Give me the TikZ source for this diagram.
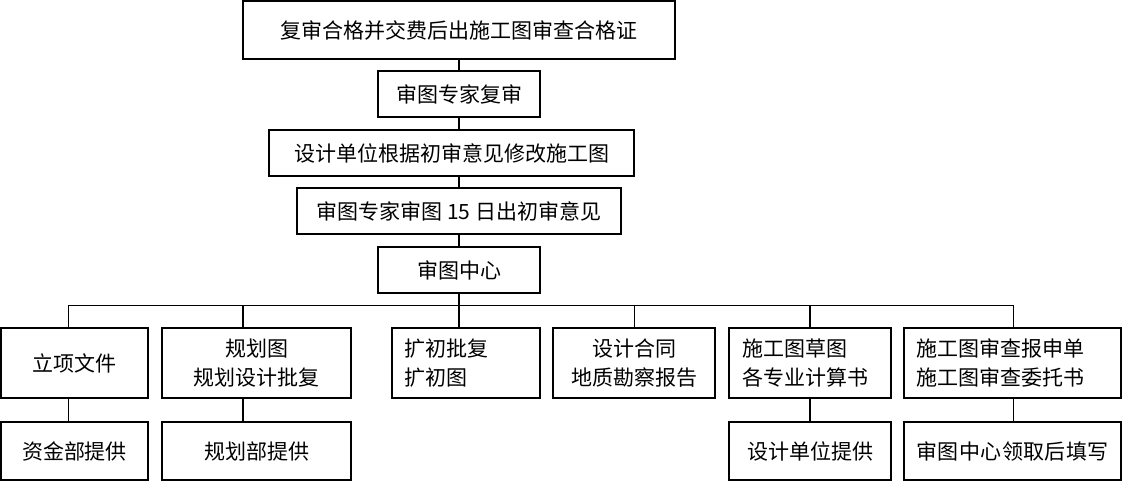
\documentclass[tikz,border=0pt]{standalone}
\usepackage{fontspec}
\setmainfont{Noto Sans CJK SC}
\newcommand\boxfont{\fontsize{21pt}{29pt}\selectfont}
\newcommand\lsp[1]{\addfontfeatures{LetterSpace=#1}}
\begin{document}
\begin{tikzpicture}[x=1pt,y=-1pt,
  box/.style={draw, line width=1.5pt, inner sep=0pt, font=\boxfont, align=center},
  lbox/.style={box, align=left},
  thinline/.style={line width=0.8pt},
  thickline/.style={line width=1.6pt}]
\useasboundingbox (0,0) rectangle (1122,482);
% top chain
\node[box, minimum width=432pt, minimum height=58pt] (b1) at (459,30) {复审合格并交费后出施工图审查合格证};
\node[box, minimum width=162pt, minimum height=46pt] (b2) at (459,94) {审图专家复审};
\node[box, minimum width=365pt, minimum height=46pt] (b3) at (451.5,153) {设计单位根据初审意见修改施工图};
\node[box, minimum width=324pt, minimum height=46pt] (b4) at (459,211) {审图专家审图 15 日出初审意见};
\node[box, minimum width=162pt, minimum height=46pt] (b5) at (459,270) {审图中心};
% row 1
\node[box, minimum width=147pt, minimum height=70pt] (r1) at (74.5,363) {立项文件};
\node[box, minimum width=189pt, minimum height=70pt] (r2) at (256.5,363) {规划图\\规划设计批复};
\node[lbox, minimum width=148pt, minimum height=70pt, text width=124pt] (r3) at (466,363) {扩初批复\\扩初图};
\node[box, minimum width=162pt, minimum height=70pt] (r4) at (634,363) {设计合同\\地质勘察报告};
\node[lbox, minimum width=162pt, minimum height=70pt, text width=136pt] (r5) at (810,363) {施工图草图\\各专业计算书};
\node[lbox, minimum width=217pt, minimum height=70pt, text width=193pt] (r6) at (1012.5,363) {施工图审查报申单\\施工图审查委托书};
% row 2
\node[box, minimum width=147pt, minimum height=58pt] (s1) at (74.5,451) {资金部提供};
\node[box, minimum width=189pt, minimum height=58pt] (s2) at (256.5,451) {规划部提供};
\node[box, minimum width=162pt, minimum height=58pt] (s5) at (810,451) {设计单位提供};
\node[box, minimum width=217pt, minimum height=58pt] (s6) at (1012.5,451) {\lsp{2}审图中心领取后填写};
% connectors top chain
\draw[thickline] (b1.south) -- (b2.north);
\draw[thickline] (b2.south) -- (b2.south |- b3.north);
\draw[thickline] (b2.south |- b3.south) -- (b4.north);
\draw[thickline] (b4.south) -- (b5.north);
% bus
\coordinate (d1) at (68,305);
\coordinate (d2) at (243,305);
\coordinate (bus) at (459,305);
\coordinate (d4) at (634,305);
\coordinate (d5) at (810,305);
\coordinate (d6) at (1013,305);
\draw[thickline] (b5.south) -- (bus);
\draw[thinline] (d1) -- (d6);
\draw[thinline] (d1) -- (d1 |- r1.north);
\draw[thickline] (d2) -- (d2 |- r2.north);
\draw[thickline] (bus) -- (bus |- r3.north);
\draw[thinline] (d4) -- (d4 |- r4.north);
\draw[thickline] (d5) -- (d5 |- r5.north);
\draw[thinline] (d6) -- (d6 |- r6.north);
% row 2 connectors
\draw[thinline] (d1 |- r1.south) -- (d1 |- s1.north);
\draw[thickline] (d2 |- r2.south) -- (d2 |- s2.north);
\draw[thickline] (d5 |- r5.south) -- (d5 |- s5.north);
\draw[thinline] (d6 |- r6.south) -- (d6 |- s6.north);
\end{tikzpicture}
\end{document}
